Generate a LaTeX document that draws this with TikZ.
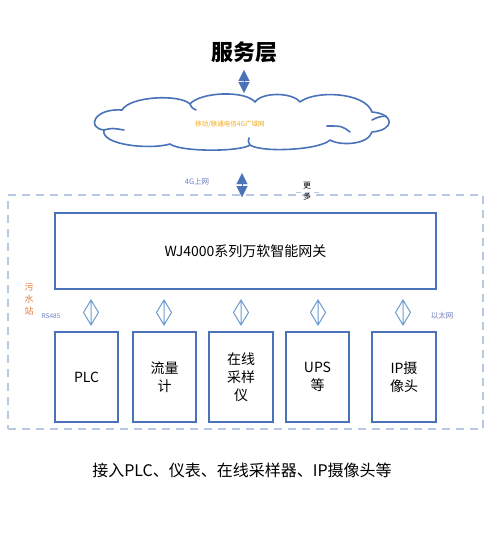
\documentclass[tikz,border=0pt]{standalone}
\usepackage{fontspec}
\setmainfont{Noto Sans CJK SC}
\usetikzlibrary{arrows.meta,calc}
\definecolor{boxblue}{HTML}{4A72B8}
\definecolor{dashblue}{HTML}{B7C9E0}
\definecolor{diamblue}{HTML}{6A9AD0}
\definecolor{orng}{HTML}{E07B39}
\definecolor{gold}{HTML}{F0A818}
\definecolor{lblue}{HTML}{6F7FBF}
\begin{document}
\begin{tikzpicture}[x=1pt,y=-1pt,
  devbox/.style={draw=boxblue,line width=2pt,minimum width=63pt,minimum height=90pt,align=center,inner sep=0pt,font=\fontsize{14}{18}\selectfont},
  bigarr/.style={draw=boxblue,fill=boxblue,line width=0.1pt,{Triangle[width=11pt,length=11pt]}-{Triangle[width=11pt,length=11pt]}},
  diam/.style={draw=diamblue,line width=1pt,line join=miter},
  cloudline/.style={draw=boxblue,line width=1.6pt,line join=round,line cap=round},
  small/.style={inner sep=0pt,align=center}]
\useasboundingbox (0,0) rectangle (494,545);
\node[font=\fontsize{22}{26}\selectfont\bfseries] (title) at (244,52) {服务层};
% cloud outline
\draw[cloudline] (104,130)
  .. controls (86,128) and (94,108) .. (122,110)
  .. controls (130,96) and (180,94) .. (190,104)
  .. controls (200,92) and (245,90) .. (255,102)
  .. controls (262,92) and (292,92) .. (300,102)
  .. controls (315,90) and (365,92) .. (372,112)
  .. controls (395,114) and (395,130) .. (372,132)
  .. controls (368,145) and (340,146) .. (330,140)
  .. controls (320,150) and (262,153) .. (250,145)
  .. controls (240,152) and (180,152) .. (170,144)
  .. controls (150,150) and (100,145) .. (104,130);
\draw[cloudline] (104,130) .. controls (112,128) .. (124,130);
\draw[cloudline] (372,120) .. controls (378,117) .. (386,116);
\draw[cloudline] (327,126) .. controls (342,126) .. (350,132);
\draw[cloudline] (250,145) .. controls (248,141) .. (249,138);
\draw[cloudline] (190,104) .. controls (192,108) .. (196,110);
\node[inner sep=0pt,minimum width=297pt,minimum height=54pt] (cloud) at (241.5,123) {};
\node[small,text=gold,font=\fontsize{6.5}{7}\selectfont] (cloudtxt) at (230,124) {移动/联通电信4G广域网};
\node[draw=dashblue, dash pattern=on 8pt off 6pt, line width=1.8pt, minimum width=475pt, minimum height=234pt, inner sep=0pt] (site) at (245.5,312) {};
\node[draw=boxblue,line width=2pt,minimum width=381pt,minimum height=76pt,inner sep=0pt,font=\fontsize{14}{18}\selectfont] (gw) at (245.5,251) {WJ4000系列万软智能网关};
\node[devbox] (plc) at (86.5,377) {PLC};
\node[devbox] (flow) at (164.5,377) {流量\\计};
\node[devbox,minimum width=64pt] (samp) at (241,377) {在线\\采样\\仪};
\node[devbox] (ups) at (317.5,377) {UPS\\等};
\node[devbox,minimum width=64pt] (cam) at (404,377) {IP摄\\像头};
\draw[bigarr] (title.south |- 0,70) -- (title.south |- 0,93);
\draw[bigarr] (cloud.south -| 242,0) ++(0,23) -- ++(0,24);
\foreach \x in {91,164,241,318,403}{
  \draw[diam] (\x,300) -- (\x+7.5,312.5) -- (\x,325) -- (\x-7.5,312.5) -- cycle (\x,300) -- (\x,325);
}
\node[small,text=lblue,font=\fontsize{7.5}{9}\selectfont] (g4) at (197,182) {4G上网};
\node[small,font=\fontsize{8}{10.5}\selectfont] (more) at (307,191) {更\\多};
\draw[draw=dashblue,line width=1pt,dash pattern=on 5pt off 4pt] (296,193) -- (322,193);
\node[small,text=orng,font=\fontsize{9}{12}\selectfont] (wws) at (29,299) {污\\水\\站};
\node[small,text=lblue,font=\fontsize{6.5}{8}\selectfont] (rs) at (51,316) {RS485};
\node[small,text=lblue,font=\fontsize{7.5}{9}\selectfont] (eth) at (442,316) {以太网};
\node[small,font=\fontsize{16}{20}\selectfont] (foot) at (242,470) {接入PLC、仪表、在线采样器、IP摄像头等};
\end{tikzpicture}
\end{document}
